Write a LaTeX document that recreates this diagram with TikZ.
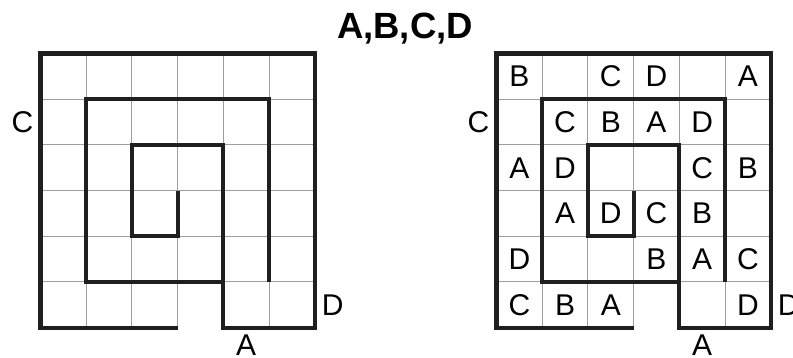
\documentclass[tikz,border=0pt]{standalone}
\usepackage{fontspec}
\setmainfont{Liberation Sans}
\usetikzlibrary{positioning}

\begin{document}
\begin{tikzpicture}[
  x=1pt, y=-1pt,
  cellline/.style={draw=black!38, line width=1pt},
  wall/.style={draw=black!88, line width=4.2pt, line join=miter},
  letter/.style={inner sep=0pt, font=\fontsize{30}{30}\selectfont},
  clue/.style={letter},
  heading/.style={inner sep=0pt, font=\fontsize{36.5}{36.5}\selectfont\bfseries},
]
  \useasboundingbox (0,0) rectangle (793,358);
  \node[heading, anchor=base] (title) at (405,38.5) {A,B,C,D};

  % both grids: thin lines, walls, clues outside
  \foreach \gx/\gn in {40.5/L, 496.5/R} {
    \begin{scope}[shift={(\gx,53.5)}, x=45.7pt, y=-45.7pt]
      \foreach \i in {1,...,5} {
        \draw[cellline] (\i,0) -- (\i,6);
        \draw[cellline] (0,\i) -- (6,\i);
      }
      \draw[wall] (3,6) -- (0,6) -- (0,0) -- (6,0) -- (6,6) -- (4,6) -- (4,2)
        -- (2,2) -- (2,4) -- (3,4) -- (3,3);
      \draw[wall] (5,5) -- (5,1) -- (1,1) -- (1,5) -- (4,5);
      \coordinate (left-\gn) at (0,1.5);
      \coordinate (right-\gn) at (6,5.5);
      \coordinate (bottom-\gn) at (4.5,6);
      \node[clue, anchor=east, left=7pt of left-\gn] (C-\gn) {C};
      \node[clue, anchor=west, right=7pt of right-\gn] (D-\gn) {D};
      \node[clue, anchor=north, below=7pt of bottom-\gn] (A-\gn) {A};
    \end{scope}
  }

  % filled-in letters of the solved grid
  \begin{scope}[shift={(496.5,53.5)}, x=45.7pt, y=-45.7pt]
    \foreach \r/\c/\l in {0/0/B, 0/2/C, 0/3/D, 0/5/A,
                          1/1/C, 1/2/B, 1/3/A, 1/4/D,
                          2/0/A, 2/1/D, 2/4/C, 2/5/B,
                          3/1/A, 3/2/D, 3/3/C, 3/4/B,
                          4/0/D, 4/3/B, 4/4/A, 4/5/C,
                          5/0/C, 5/1/B, 5/2/A, 5/5/D}
      \node[letter] (cell-\r-\c) at (\c+0.5,\r+0.5) {\l};
  \end{scope}
\end{tikzpicture}
\end{document}
